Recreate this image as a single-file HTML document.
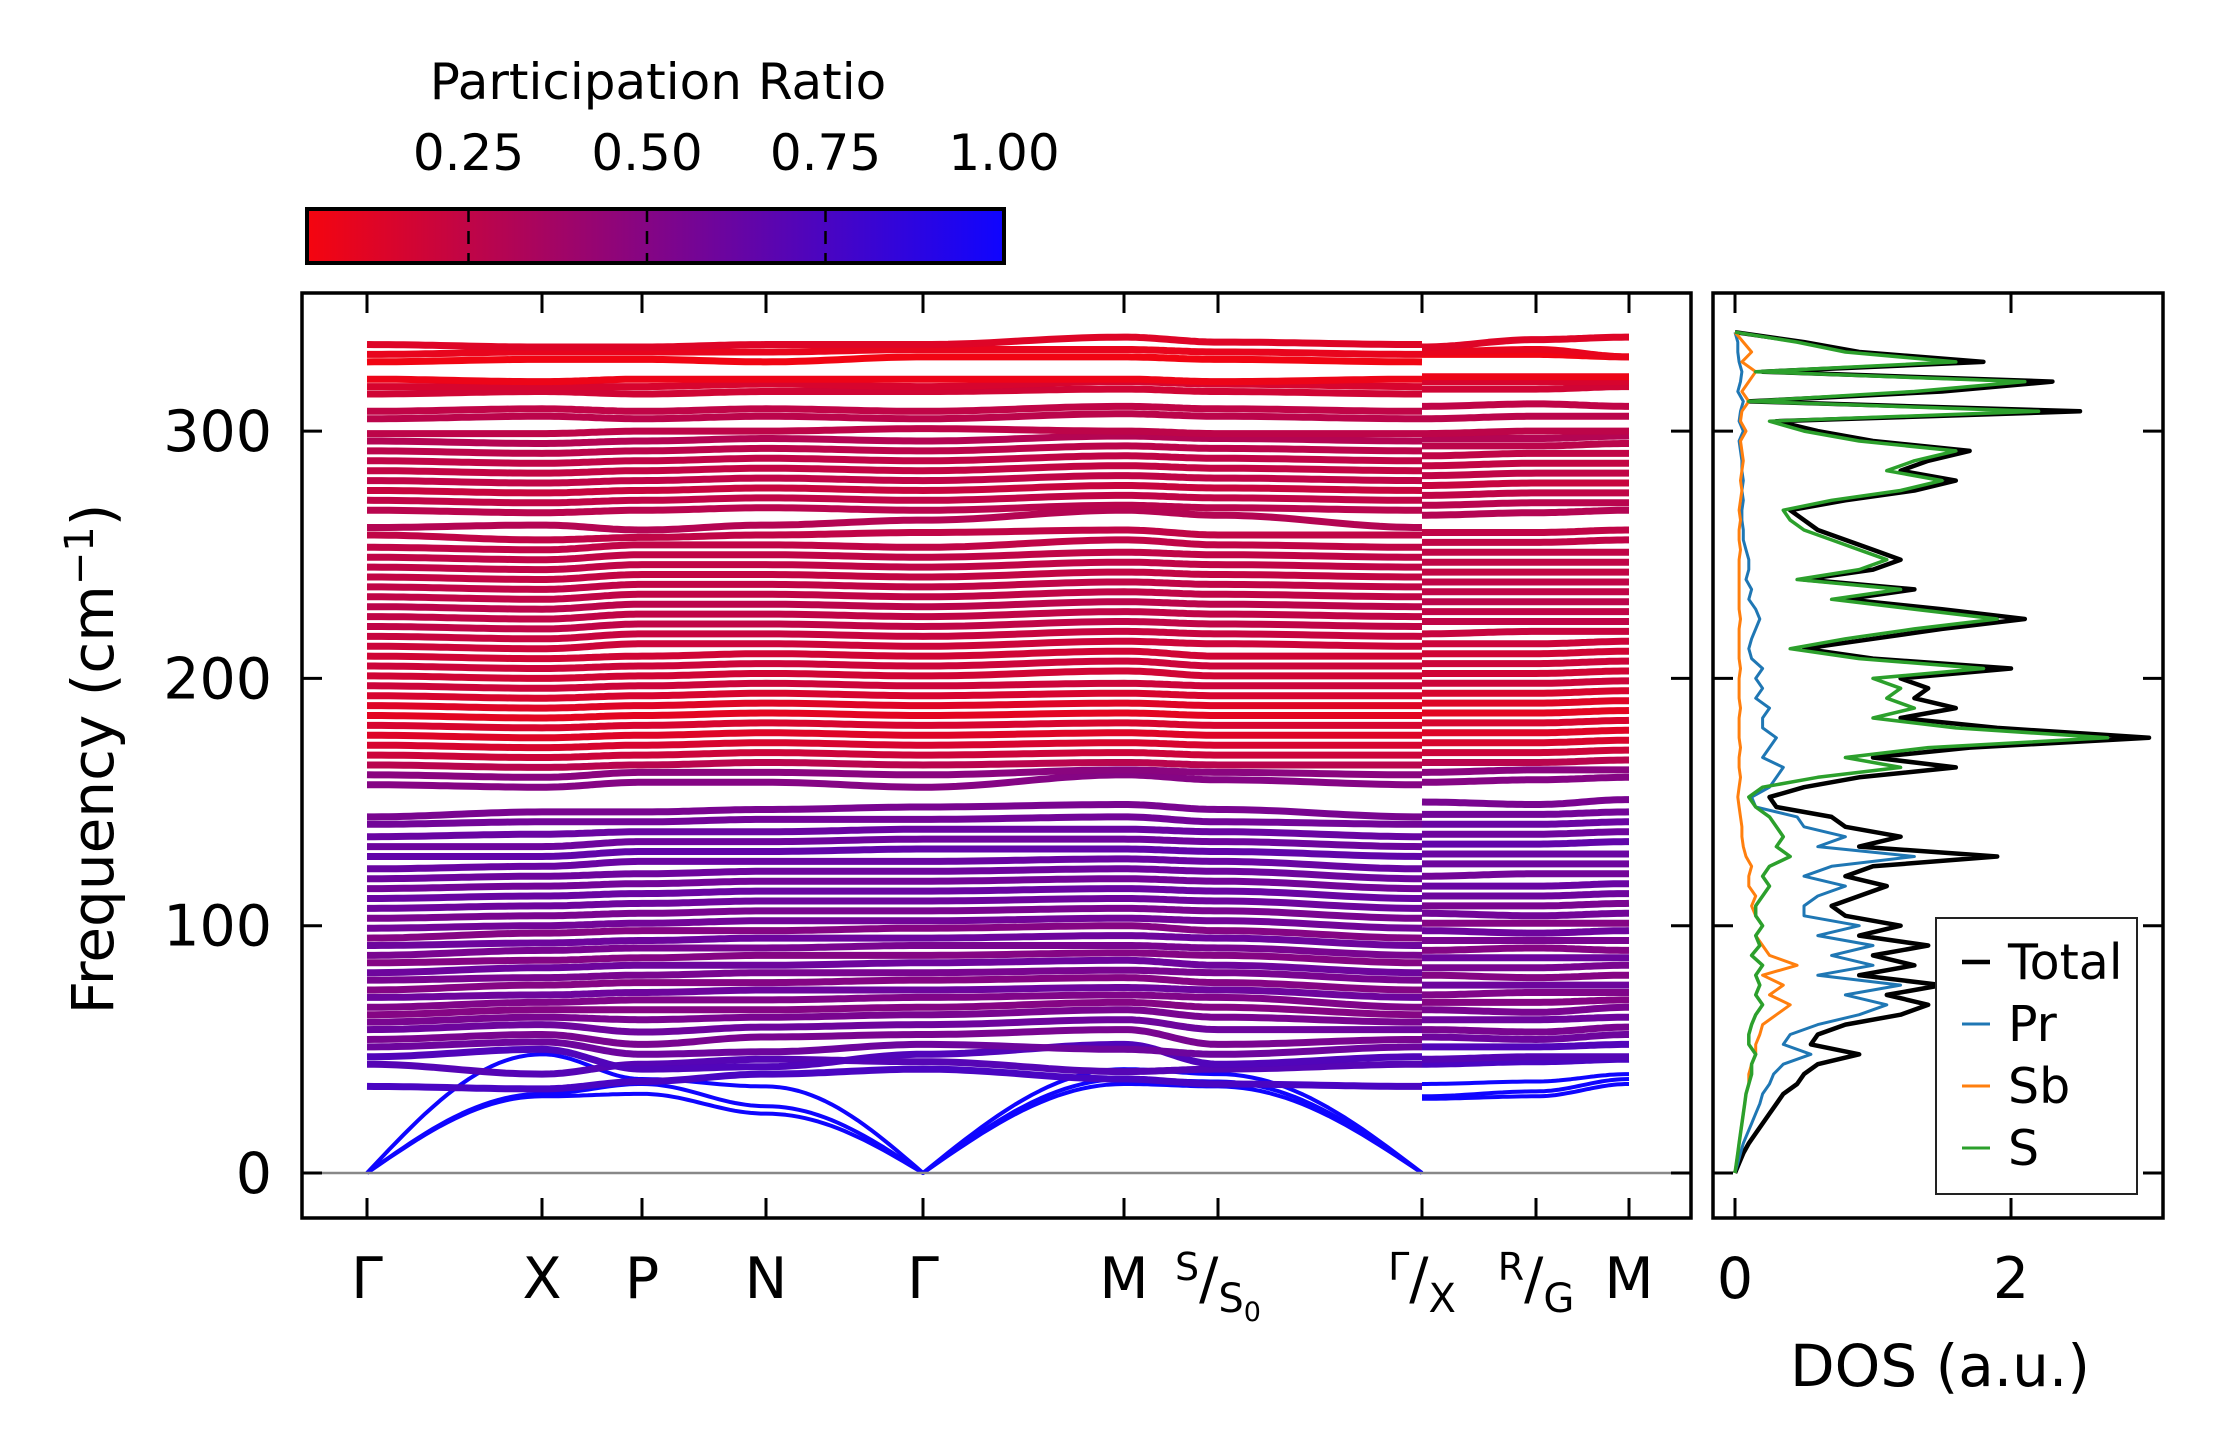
<!DOCTYPE html>
<html><head><meta charset="utf-8">
<style>
html,body{margin:0;padding:0;background:#fff;}
svg{display:block;font-family:"DejaVu Sans","Liberation Sans",sans-serif;}
</style></head>
<body>
<svg id="chart" width="2222" height="1455" viewBox="0 0 2222 1455" xmlns="http://www.w3.org/2000/svg">
<defs>
<linearGradient id="cbgrad" x1="0" x2="1" y1="0" y2="0">
<stop offset="0" stop-color="rgb(245,5,15)"/>
<stop offset="1" stop-color="rgb(15,5,255)"/>
</linearGradient>
<clipPath id="mainclip"><rect x="302" y="293" width="1389" height="925"/></clipPath>
<clipPath id="dosclip"><rect x="1713" y="293" width="450" height="925"/></clipPath>
</defs>
<g id="bands" clip-path="url(#mainclip)"></g>
<g id="dos" clip-path="url(#dosclip)"></g>
<g id="axes"></g>
</svg>
<script>
const kLabels = ["Γ","X","P","N","Γ","M","S/S0","Γ/X","R/G","M"];
const kPixel = [367,542,642,766,923,1124,1218,1422,1536,1629];
const bands = [
[0,31,32,24,0,36,35,0,30,31,36],
[0,32,36,27,0,38,37,0,31,33,38],
[0,48,38,35,0,42,40,0,36,37,40],
[35,34,37,40,42,38,36,35,44,45,46],
[44,40,44,46,45,41,42,44,46,47,47],
[47,50,42,43,48,52,44,47,51,51,52],
[51,53,48,49,52,50,48,51,55,54,56],
[54,56,52,55,56,58,52,54,58,57,59],
[58,60,57,59,60,62,58,58,62,62,63],
[61,63,62,63,64,66,63,61,66,65,67],
[64,66,66,66,67,69,67,64,69,69,70],
[67,69,70,70,71,72,71,67,72,73,73],
[71,72,73,74,74,75,74,71,76,76,76],
[74,76,77,77,78,79,77,74,80,79,80],
[78,79,80,81,81,82,81,78,83,83,84],
[81,83,84,84,85,86,84,81,87,87,87],
[85,86,87,88,88,89,88,85,90,91,90],
[88,90,91,91,92,92,91,88,94,94,94],
[92,93,94,95,95,96,95,92,98,97,98],
[95,97,98,98,99,100,98,95,101,101,101],
[99,100,101,102,102,103,102,99,105,104,105],
[103,104,105,106,106,107,106,103,108,108,109],
[107,108,109,110,110,111,110,107,112,112,113],
[111,112,113,114,114,115,114,111,116,116,117],
[115,116,117,118,118,119,118,115,120,121,121],
[119,120,121,122,122,123,122,119,125,125,125],
[123,124,126,126,126,127,126,123,129,129,129],
[128,128,130,130,131,131,130,128,133,133,134],
[132,132,134,134,135,135,134,132,137,137,138],
[136,137,138,138,139,139,138,136,141,141,142],
[141,142,142,143,143,144,142,141,145,145,146],
[144,146,146,147,148,149,147,144,150,149,151],
[157,156,158,158,156,161,159,157,158,159,160],
[161,160,162,162,161,163,162,161,162,163,163],
[165,164,165,166,165,166,165,165,166,166,167],
[169,168,169,170,169,170,169,169,170,170,171],
[173,172,173,174,173,174,173,173,174,174,175],
[177,176,177,178,177,178,177,177,178,178,179],
[181,180,181,182,181,182,181,181,182,182,183],
[185,184,185,186,185,186,185,185,186,186,187],
[189,188,189,190,189,190,189,189,190,190,191],
[193,192,193,194,193,194,193,193,194,194,195],
[197,196,197,198,197,198,197,197,198,198,199],
[201,200,201,202,201,203,201,201,202,202,203],
[205,204,205,206,205,207,205,205,206,206,207],
[209,208,209,210,209,211,209,209,210,210,211],
[213,212,214,214,213,215,214,213,214,214,215],
[217,216,218,218,217,219,218,217,218,219,219],
[221,220,222,222,221,223,222,221,223,223,223],
[225,224,226,226,225,227,226,225,227,227,227],
[229,228,230,230,229,231,230,229,231,231,231],
[233,232,234,234,233,235,234,233,235,235,235],
[237,236,238,238,237,239,238,237,239,239,239],
[241,240,242,242,241,243,242,241,243,243,243],
[245,244,246,246,245,247,246,245,247,247,247],
[249,248,250,250,249,251,250,249,251,251,251],
[253,252,254,254,253,256,254,253,255,255,256],
[258,256,257,258,259,260,258,258,259,259,260],
[261,262,260,262,264,268,266,261,266,267,268],
[268,267,268,269,268,270,269,268,270,271,271],
[272,271,272,273,272,274,273,272,274,275,275],
[276,275,276,277,276,278,277,276,278,279,279],
[280,279,280,281,280,282,281,280,282,283,283],
[284,283,284,285,284,286,285,284,286,287,287],
[288,287,288,289,288,290,289,288,290,291,291],
[292,291,292,293,292,294,293,292,294,294,295],
[296,295,296,297,296,298,297,296,297,297,298],
[299,299,300,300,301,300,299,299,299,300,300],
[305,306,305,306,305,307,306,305,305,306,306],
[308,309,308,309,308,310,309,308,310,311,310],
[315,316,315,316,316,317,316,315,317,317,318],
[318,318,318,319,318,320,319,318,320,320,320],
[321,320,321,321,321,321,320,321,322,322,322],
[328,329,329,328,330,330,329,328,331,331,330],
[331,332,332,332,333,333,332,331,332,333,330],
[335,334,334,335,335,338,336,335,334,337,338]
];
const bandPR = [1,1,1,
0.75,0.7,0.72,0.6,0.55,0.6,0.55,0.5,0.52,0.6,0.5,0.55,0.6,0.5,0.55,0.6,0.5,0.58,0.55,0.6,0.62,0.58,0.6,0.62,0.65,0.6,0.62,0.58,0.55,0.5,0.48,
0.28,0.2,0.15,0.12,0.15,0.1,0.12,0.15,0.2,0.18,0.2,0.18,0.2,0.22,0.25,0.25,0.27,0.25,0.25,0.24,0.25,0.25,0.25,0.25,0.3,0.28,0.25,0.22,0.25,0.24,0.25,0.27,0.3,0.26,0.27,0.25,
0.18,0.15,0.06,0.04,0.08,0.12,0.15,0.12];
const freqTicks = [0,100,200,300];
const cbTicks = [0.25,0.5,0.75,1.0];
const cbTickLabels = ["0.25","0.50","0.75","1.00"];
const dosStep = 4;
const dosTotal = [0,0.03,0.06,0.1,0.15,0.2,0.25,0.3,0.35,0.45,0.5,0.6,0.9,0.55,0.6,0.8,1.2,1.4,1.1,1.5,0.9,1.3,1.0,1.4,0.9,1.2,0.8,0.7,0.9,1.1,0.8,1.0,1.9,0.9,1.2,0.8,0.7,0.3,0.25,0.5,0.9,1.6,1.0,1.7,3.0,1.9,1.2,1.6,1.3,1.4,1.2,2.0,1.0,0.5,1.0,1.5,2.1,1.5,0.8,1.3,0.5,1.0,1.2,1.0,0.8,0.6,0.5,0.4,0.8,1.3,1.6,1.2,1.4,1.7,1.0,0.6,0.3,2.5,0.1,1.5,2.3,0.2,1.8,0.9,0.5,0];
const dosPr = [0,0.02,0.04,0.06,0.09,0.12,0.15,0.18,0.2,0.25,0.28,0.35,0.55,0.35,0.4,0.6,0.9,1.1,0.8,1.2,0.6,1.0,0.7,1.0,0.6,0.9,0.5,0.5,0.6,0.8,0.5,0.7,1.3,0.6,0.8,0.5,0.45,0.15,0.12,0.25,0.3,0.35,0.2,0.25,0.3,0.2,0.2,0.25,0.15,0.2,0.15,0.2,0.12,0.1,0.12,0.15,0.18,0.15,0.1,0.12,0.08,0.1,0.1,0.08,0.06,0.06,0.05,0.05,0.06,0.05,0.06,0.05,0.05,0.04,0.03,0.06,0.03,0.04,0.06,0.02,0.04,0.05,0.03,0.02,0.02,0];
const dosSb = [0,0.01,0.02,0.03,0.04,0.05,0.06,0.07,0.08,0.1,0.1,0.12,0.15,0.15,0.18,0.2,0.3,0.4,0.25,0.35,0.2,0.45,0.25,0.2,0.15,0.2,0.15,0.12,0.15,0.1,0.1,0.12,0.08,0.06,0.05,0.05,0.04,0.03,0.02,0.03,0.04,0.03,0.03,0.04,0.03,0.03,0.03,0.04,0.03,0.03,0.03,0.04,0.03,0.03,0.03,0.03,0.04,0.03,0.03,0.03,0.03,0.03,0.03,0.04,0.03,0.03,0.04,0.03,0.04,0.05,0.04,0.05,0.06,0.05,0.04,0.08,0.04,0.05,0.1,0.05,0.1,0.15,0.05,0.12,0.06,0];
const dosS = [0,0.01,0.02,0.03,0.04,0.05,0.06,0.07,0.08,0.1,0.12,0.12,0.15,0.1,0.1,0.12,0.15,0.2,0.15,0.18,0.15,0.2,0.12,0.18,0.15,0.2,0.15,0.15,0.2,0.25,0.2,0.25,0.4,0.3,0.35,0.3,0.25,0.15,0.1,0.2,0.6,1.2,0.8,1.4,2.7,1.6,1.0,1.3,1.1,1.2,1.0,1.8,0.9,0.4,0.8,1.3,1.9,1.3,0.7,1.2,0.45,0.9,1.1,0.9,0.7,0.5,0.4,0.35,0.7,1.2,1.5,1.1,1.3,1.6,0.9,0.5,0.25,2.2,0.1,1.3,2.1,0.15,1.6,0.8,0.45,0];
const dosXTicks = [0,2];

const NS = "http://www.w3.org/2000/svg";
function yScale(f){ return 1173 - f*2.473; }
function dosX(v){ return 1735 + v*138; }
function cbX(p){ return 1004 - (1.0-p)*714; }
function prColor(p){ const t=Math.max(0,Math.min(1,(p-0.024)/0.976)); return "rgb("+Math.round(245*(1-t)+15*t)+",5,"+Math.round(15*(1-t)+255*t)+")"; }
function mk(tag, attrs, parent){ const el=document.createElementNS(NS,tag); for(const k in attrs) el.setAttribute(k,attrs[k]); parent.appendChild(el); return el; }

const segX = [kPixel[0],kPixel[1],kPixel[2],kPixel[3],kPixel[4],kPixel[5],kPixel[6],kPixel[7],kPixel[7],kPixel[8],kPixel[9]];
const bandG = document.getElementById("bands");
function interp(a,b,t){
  if(a===0 && b!==0) return b*Math.sin(t*Math.PI/2);
  if(b===0 && a!==0) return a*Math.cos(t*Math.PI/2);
  return a+(b-a)*(1-Math.cos(t*Math.PI))/2;
}
bands.forEach((vals,bi)=>{
  const col = prColor(bandPR[bi]);
  [[0,7],[8,10]].forEach(([s,e2])=>{
    let d="";
    for(let i=s;i<e2;i++){
      const x0=segX[i], x1=segX[i+1];
      const n=24;
      for(let j=0;j<=n;j++){
        if(i>s && j===0) continue;
        const t=j/n; const x=x0+(x1-x0)*t; const y=yScale(interp(vals[i],vals[i+1],t));
        d += (d===""?"M":"L")+x.toFixed(1)+","+y.toFixed(1);
      }
    }
    const p = mk("path",{d:d,fill:"none",stroke:col,"stroke-width":bi<3?4:7,"stroke-linejoin":"round"},bandG);
    
    
  });
});

const dosG = document.getElementById("dos");
function dosPath(arr,color,w,name){
  let d="";
  arr.forEach((v,i)=>{ d += (i?"L":"M")+dosX(v).toFixed(1)+","+yScale(i*dosStep).toFixed(1); });
  const p=mk("path",{d:d,fill:"none",stroke:color,"stroke-width":w,"stroke-linejoin":"round"},dosG);
  
  
}
dosPath(dosTotal,"#000",4.5,"dos-total-line");
dosPath(dosPr,"#1f77b4",3,"dos-pr-line");
dosPath(dosSb,"#ff7f0e",3,"dos-sb-line");
dosPath(dosS,"#2ca02c",3.5,"dos-s-line");

const ax = document.getElementById("axes");
let e;
e=mk("line",{x1:302,x2:1691,y1:yScale(0),y2:yScale(0),stroke:"#888","stroke-width":2.5},ax);


e=mk("rect",{x:302,y:293,width:1389,height:925,fill:"none",stroke:"#000","stroke-width":3.5},ax);


e=mk("rect",{x:1713,y:293,width:450,height:925,fill:"none",stroke:"#000","stroke-width":3.5},ax);



freqTicks.forEach(f=>{
  const y=yScale(f);
  [[302,322],[1671,1691],[1713,1733],[2143,2163]].forEach(([a,b])=>{
    e=mk("line",{x1:a,x2:b,y1:y,y2:y,stroke:"#000","stroke-width":3},ax);
    
    
  });
  e=mk("text",{x:272,y:y+20,"text-anchor":"end","font-size":57},ax);
  e.textContent=String(f);
  
  
});
kPixel.forEach(x=>{
  [[293,313],[1198,1218]].forEach(([a,b])=>{
    e=mk("line",{x1:x,x2:x,y1:a,y2:b,stroke:"#000","stroke-width":3},ax);
    
    
  });
});
function simpleLabel(x,txt){
  e=mk("text",{x:x,y:1298,"text-anchor":"middle","font-size":57},ax);
  e.textContent=txt;
  
  
}
function fracLabel(x,a,b,sub){
  const t=mk("text",{x:x,y:1298,"text-anchor":"middle","font-size":57},ax);
  
  
  const s1=mk("tspan",{"font-size":38,dy:-18},t); s1.textContent=a;
  const s2=mk("tspan",{"font-size":57,dy:18},t); s2.textContent="/";
  const s3=mk("tspan",{"font-size":40,dy:14},t); s3.textContent=b;
  if(sub){ const s4=mk("tspan",{"font-size":27,dy:9},t); s4.textContent=sub; }
}
kLabels.forEach((l,i)=>{
  if(l==="S/S0") fracLabel(kPixel[i],"S","S","0");
  else if(l==="Γ/X") fracLabel(kPixel[i],"Γ","X",null);
  else if(l==="R/G") fracLabel(kPixel[i],"R","G",null);
  else simpleLabel(kPixel[i],l);
});
dosXTicks.forEach(v=>{
  const x=dosX(v);
  [[293,313],[1198,1218]].forEach(([a,b])=>{
    e=mk("line",{x1:x,x2:x,y1:a,y2:b,stroke:"#000","stroke-width":3},ax);
    
    
  });
  e=mk("text",{x:x,y:1298,"text-anchor":"middle","font-size":57},ax);
  e.textContent=String(v);
  
  
});
e=mk("text",{x:1940,y:1386,"text-anchor":"middle","font-size":58},ax);
e.textContent="DOS (a.u.)";


e=mk("text",{x:0,y:0,"text-anchor":"middle","font-size":58,transform:"translate(113,759) rotate(-90)"},ax);


e.appendChild(document.createTextNode("Frequency (cm"));
let sp=mk("tspan",{"font-size":40,dy:-20},e); sp.textContent="−1";
sp=mk("tspan",{dy:20},e); sp.textContent=")";

e=mk("rect",{x:307,y:209,width:697,height:54,fill:"url(#cbgrad)",stroke:"#000","stroke-width":4},ax);


cbTicks.forEach((p,i)=>{
  const x=cbX(p);
  if(p<1){
    e=mk("line",{x1:x,x2:x,y1:209,y2:263,stroke:"#000","stroke-width":2.5,"stroke-dasharray":"13,9"},ax);
    
    
  }
  e=mk("text",{x:x,y:170,"text-anchor":"middle","font-size":50},ax);
  e.textContent=cbTickLabels[i];
  
  
});
e=mk("text",{x:658,y:99,"text-anchor":"middle","font-size":50},ax);
e.textContent="Participation Ratio";



const lg=mk("g",{},ax);


mk("rect",{x:1936,y:918,width:201,height:276,fill:"#fff",stroke:"#222","stroke-width":2},lg);
const legNames=["Total","Pr","Sb","S"], legCols=["#000","#1f77b4","#ff7f0e","#2ca02c"];
legNames.forEach((n,i)=>{
  const y=962+i*62;
  const l=mk("line",{x1:1962,x2:1990,y1:y,y2:y,stroke:legCols[i],"stroke-width":i===0?4.5:3},lg);
  
  
  const t=mk("text",{x:2008,y:y+17,"font-size":49},lg);
  t.textContent=n;
  
  
});
</script>
</body></html>
